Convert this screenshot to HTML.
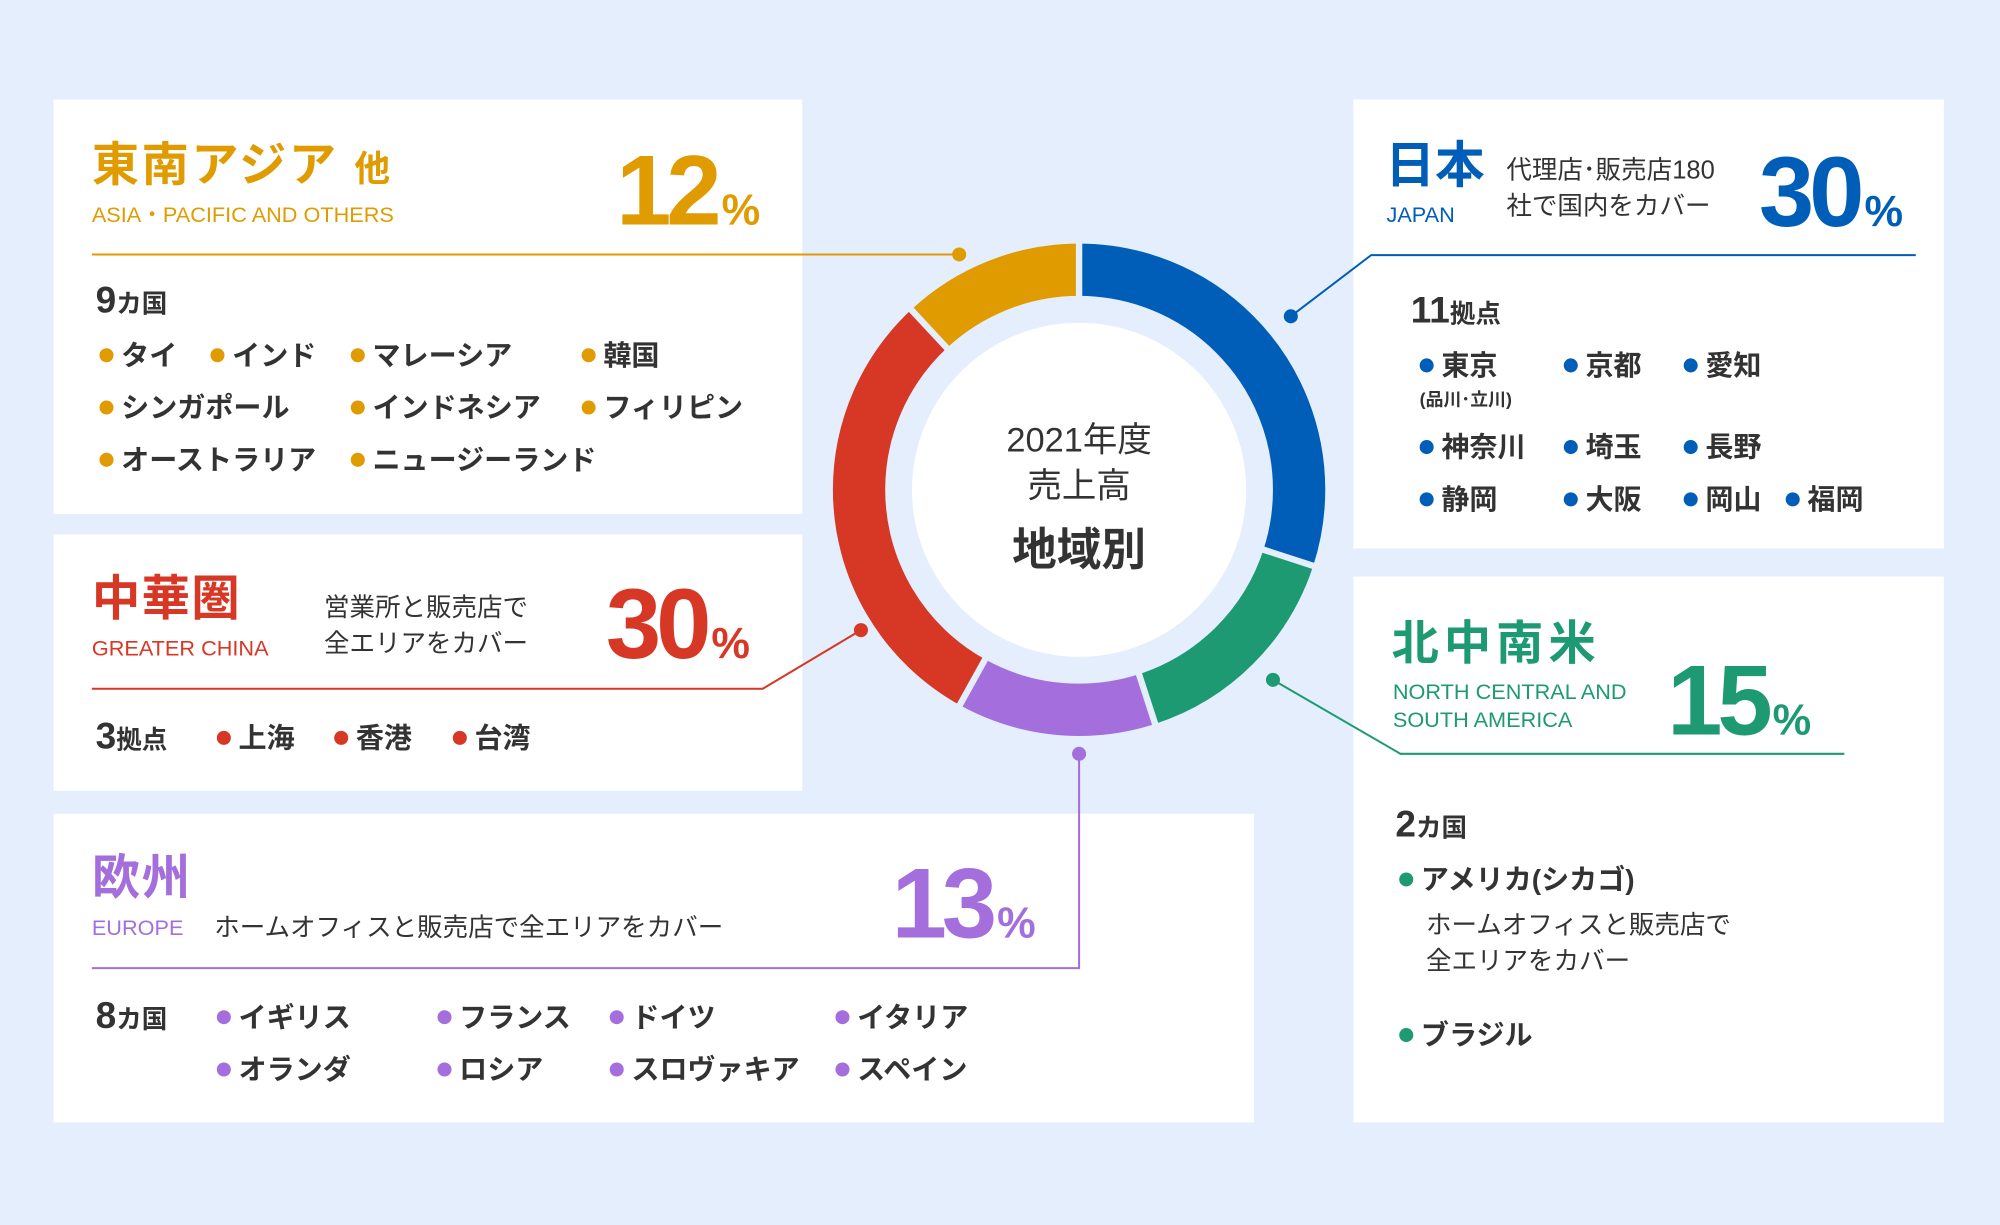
<!DOCTYPE html>
<html><head><meta charset="utf-8">
<style>
html,body{margin:0;padding:0;}
body{width:2000px;height:1224px;overflow:hidden;background:#e4eefd;}
#s{position:absolute;left:0;top:0;width:1568px;height:960px;transform:scale(1.27551);transform-origin:0 0;background:#e4eefd;font-family:"Liberation Sans","Noto Sans CJK JP",sans-serif;color:#333;}
.c{position:absolute;background:#fff;}
.t{position:absolute;white-space:nowrap;line-height:1;}
.b{font-weight:700;}
.d{display:inline-block;width:11px;height:11px;border-radius:50%;margin-right:6px;vertical-align:2px;}
.it{position:absolute;white-space:nowrap;line-height:1;font-size:22px;font-weight:700;color:#333;}
.num{position:absolute;white-space:nowrap;line-height:1;font-family:"Liberation Sans",sans-serif;font-weight:700;font-size:78px;letter-spacing:-4px;}
.num span{font-size:34px;letter-spacing:0;margin-left:4px;}
.Y{background:#e09b00}.R{background:#d73725}.P{background:#a46fdc}.B{background:#005eb8}.G{background:#1e9a72}
</style></head><body><div id="s">
<div class="c" style="left:42px;top:78px;width:587px;height:325px"></div>
<div class="c" style="left:42px;top:419px;width:587px;height:201px"></div>
<div class="c" style="left:42px;top:638px;width:941px;height:242px"></div>
<div class="c" style="left:1061px;top:78px;width:463px;height:352px"></div>
<div class="c" style="left:1061px;top:452px;width:463px;height:428px"></div>

<svg style="position:absolute;left:0;top:0" width="1568" height="960">
<g fill="none">
<circle cx="846" cy="384" r="131" fill="#fff"/>
<g transform="rotate(-90 846 384)" stroke-width="41">
<circle cx="846" cy="384" r="172.5" pathLength="360" stroke="#005eb8" stroke-dasharray="108 252" stroke-dashoffset="0"/>
<circle cx="846" cy="384" r="172.5" pathLength="360" stroke="#1e9a72" stroke-dasharray="54 306" stroke-dashoffset="-108"/>
<circle cx="846" cy="384" r="172.5" pathLength="360" stroke="#a46fdc" stroke-dasharray="47 313" stroke-dashoffset="-162"/>
<circle cx="846" cy="384" r="172.5" pathLength="360" stroke="#d73725" stroke-dasharray="108 252" stroke-dashoffset="-209"/>
<circle cx="846" cy="384" r="172.5" pathLength="360" stroke="#e09b00" stroke-dasharray="43 317" stroke-dashoffset="-317"/>
</g>
<g stroke="#e4eefd" stroke-width="5">
<line x1="846" y1="234" x2="846" y2="186" transform="rotate(0 846 384)"/>
<line x1="846" y1="234" x2="846" y2="186" transform="rotate(108 846 384)"/>
<line x1="846" y1="234" x2="846" y2="186" transform="rotate(162 846 384)"/>
<line x1="846" y1="234" x2="846" y2="186" transform="rotate(209 846 384)"/>
<line x1="846" y1="234" x2="846" y2="186" transform="rotate(317 846 384)"/>
</g>
<g stroke-width="1.6">
<polyline points="72,199.5 752,199.5" stroke="#e09b00"/>
<polyline points="1012,248 1075,200 1502,200" stroke="#005eb8"/>
<polyline points="675,494 598,540 72,540" stroke="#d73725"/>
<polyline points="998,533 1098,591 1446,591" stroke="#1e9a72"/>
<polyline points="846,591 846,759 72,759" stroke="#a46fdc"/>
</g>
</g>
<circle cx="752" cy="199.5" r="5.5" fill="#e09b00"/>
<circle cx="1012" cy="248" r="5.5" fill="#005eb8"/>
<circle cx="675" cy="494" r="5.5" fill="#d73725"/>
<circle cx="998" cy="533" r="5.5" fill="#1e9a72"/>
<circle cx="846" cy="591" r="5.5" fill="#a46fdc"/>
</svg>

<!-- center -->
<div class="t" style="left:746px;width:200px;text-align:center;top:332px;font-size:27px">2021年度</div>
<div class="t" style="left:746px;width:200px;text-align:center;top:368px;font-size:27px">売上高</div>
<div class="t b" style="left:746px;width:200px;text-align:center;top:414px;font-size:35px">地域別</div>

<!-- Asia -->
<div class="t b" style="left:72px;top:111px;font-size:37px;color:#e09b00;letter-spacing:2px">東南アジア <span style="font-size:28px">他</span></div>
<div class="t" style="left:72px;top:160px;font-size:17px;color:#e09b00">ASIA・PACIFIC AND OTHERS</div>
<div class="num" style="left:483px;top:110px;color:#e09b00">12<span>%</span></div>
<div class="t b" style="left:75px;top:222px;font-size:29px">9<span style="font-size:20px">カ国</span></div>
<div class="it" style="left:78px;top:268px"><i class="d Y"></i>タイ</div>
<div class="it" style="left:165px;top:268px"><i class="d Y"></i>インド</div>
<div class="it" style="left:275px;top:268px"><i class="d Y"></i>マレーシア</div>
<div class="it" style="left:456px;top:268px"><i class="d Y"></i>韓国</div>
<div class="it" style="left:78px;top:309px"><i class="d Y"></i>シンガポール</div>
<div class="it" style="left:275px;top:309px"><i class="d Y"></i>インドネシア</div>
<div class="it" style="left:456px;top:309px"><i class="d Y"></i>フィリピン</div>
<div class="it" style="left:78px;top:350px"><i class="d Y"></i>オーストラリア</div>
<div class="it" style="left:275px;top:350px"><i class="d Y"></i>ニュージーランド</div>

<!-- China -->
<div class="t b" style="left:72px;top:451px;font-size:38px;color:#d73725;letter-spacing:1px">中華圏</div>
<div class="t" style="left:72px;top:500px;font-size:17px;color:#d73725">GREATER CHINA</div>
<div class="t" style="left:254px;top:467px;font-size:20px">営業所と販売店で</div>
<div class="t" style="left:254px;top:495px;font-size:20px">全エリアをカバー</div>
<div class="num" style="left:475px;top:450px;color:#d73725">30<span>%</span></div>
<div class="t b" style="left:75px;top:564px;font-size:29px">3<span style="font-size:20px">拠点</span></div>
<div class="it" style="left:170px;top:568px"><i class="d R"></i>上海</div>
<div class="it" style="left:262px;top:568px"><i class="d R"></i>香港</div>
<div class="it" style="left:355px;top:568px"><i class="d R"></i>台湾</div>

<!-- Europe -->
<div class="t b" style="left:72px;top:670px;font-size:38px;color:#a46fdc;letter-spacing:1px">欧州</div>
<div class="t" style="left:72px;top:719px;font-size:17px;color:#a46fdc">EUROPE</div>
<div class="t" style="left:168px;top:718px;font-size:20px">ホームオフィスと販売店で全エリアをカバー</div>
<div class="num" style="left:699px;top:669px;color:#a46fdc">13<span>%</span></div>
<div class="t b" style="left:75px;top:783px;font-size:29px">8<span style="font-size:20px">カ国</span></div>
<div class="it" style="left:170px;top:787px"><i class="d P"></i>イギリス</div>
<div class="it" style="left:343px;top:787px"><i class="d P"></i>フランス</div>
<div class="it" style="left:478px;top:787px"><i class="d P"></i>ドイツ</div>
<div class="it" style="left:655px;top:787px"><i class="d P"></i>イタリア</div>
<div class="it" style="left:170px;top:828px"><i class="d P"></i>オランダ</div>
<div class="it" style="left:343px;top:828px"><i class="d P"></i>ロシア</div>
<div class="it" style="left:478px;top:828px"><i class="d P"></i>スロヴァキア</div>
<div class="it" style="left:655px;top:828px"><i class="d P"></i>スペイン</div>

<!-- Japan -->
<div class="t b" style="left:1086px;top:111px;font-size:39px;color:#005eb8">日本</div>
<div class="t" style="left:1087px;top:160px;font-size:17px;color:#005eb8">JAPAN</div>
<div class="t" style="left:1181px;top:124px;font-size:20px">代理店･販売店180</div>
<div class="t" style="left:1181px;top:152px;font-size:20px">社で国内をカバー</div>
<div class="num" style="left:1379px;top:111px;color:#005eb8">30<span>%</span></div>
<div class="t b" style="left:1106px;top:230px;font-size:29px">11<span style="font-size:20px">拠点</span></div>
<div class="it" style="left:1113px;top:276px"><i class="d B"></i>東京</div>
<div class="t b" style="left:1113px;top:306px;font-size:14px">(品川･立川)</div>
<div class="it" style="left:1226px;top:276px"><i class="d B"></i>京都</div>
<div class="it" style="left:1320px;top:276px"><i class="d B"></i>愛知</div>
<div class="it" style="left:1113px;top:340px"><i class="d B"></i>神奈川</div>
<div class="it" style="left:1226px;top:340px"><i class="d B"></i>埼玉</div>
<div class="it" style="left:1320px;top:340px"><i class="d B"></i>長野</div>
<div class="it" style="left:1113px;top:381px"><i class="d B"></i>静岡</div>
<div class="it" style="left:1226px;top:381px"><i class="d B"></i>大阪</div>
<div class="it" style="left:1320px;top:381px"><i class="d B"></i>岡山</div>
<div class="it" style="left:1400px;top:381px"><i class="d B"></i>福岡</div>

<!-- Americas -->
<div class="t b" style="left:1091px;top:486px;font-size:37px;color:#1e9a72;letter-spacing:4px">北中南米</div>
<div class="t" style="left:1092px;top:534px;font-size:17px;color:#1e9a72">NORTH CENTRAL AND</div>
<div class="t" style="left:1092px;top:556px;font-size:17px;color:#1e9a72">SOUTH AMERICA</div>
<div class="num" style="left:1307px;top:510px;color:#1e9a72">15<span>%</span></div>
<div class="t b" style="left:1094px;top:633px;font-size:29px">2<span style="font-size:20px">カ国</span></div>
<div class="it" style="left:1097px;top:679px"><i class="d G"></i>アメリカ(シカゴ)</div>
<div class="t" style="left:1118px;top:716px;font-size:20px">ホームオフィスと販売店で</div>
<div class="t" style="left:1118px;top:744px;font-size:20px">全エリアをカバー</div>
<div class="it" style="left:1097px;top:801px"><i class="d G"></i>ブラジル</div>
</div></body></html>
